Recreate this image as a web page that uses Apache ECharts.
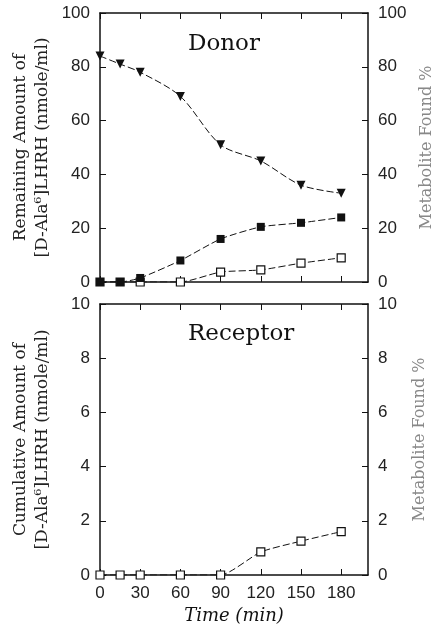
<!DOCTYPE html>
<html>
<head>
<meta charset="utf-8">
<script src="https://cdn.jsdelivr.net/npm/echarts@6/dist/echarts.min.js"></script>
<style>
  html, body { margin: 0; padding: 0; background: #fff; }
  #chart { width: 440px; height: 635px; }
</style>
</head>
<body>
<div id="chart"></div>
<script>
// sampling times (min)
const times = [0, 15, 30, 60, 90, 120, 150, 180];
const timeTicks = [0, 30, 60, 90, 120, 150, 180];

// donor side
const donorRemaining = [84, 81, 78, 69, 51, 45, 36, 33];
const donorMetaFilled = [0, 0, 1.5, 8, 16, 20.5, 22, 24];
const donorMetaOpen = [0, 0, 0, 0, 3.7, 4.5, 7, 9];

// receptor side
const receptorCumulative = [0, 0, 0, 0, 0, 0.85, 1.25, 1.6];

const serif = 'DejaVu Serif';
const sans = 'Liberation Sans';

function pairs(ys) {
    return times.map((t, i) => [t, ys[i]]);
}

function xAx(grid, pos, showLabel, name) {
    return {
        type: 'value', gridIndex: grid, position: pos,
        min: 0, max: 200,
        name: name || '',
        nameLocation: 'middle', nameGap: 32,
        nameTextStyle: { fontFamily: serif, fontStyle: 'italic', fontSize: 18, color: '#111' },
        axisLine: { show: true, onZero: false, lineStyle: { color: '#111', width: 1.5 } },
        axisTick: { show: true, inside: true, length: 6, customValues: timeTicks, lineStyle: { color: '#111' } },
        axisLabel: {
            show: showLabel, customValues: timeTicks, margin: 10,
            fontFamily: sans, fontSize: 17, color: '#222'
        },
        splitLine: { show: false }
    };
}

function yAx(grid, pos, max, interval, name, nameGap, nameStyle) {
    return {
        type: 'value', gridIndex: grid, position: pos,
        min: 0, max: max, interval: interval,
        name: name, nameLocation: 'middle', nameRotate: 90, nameGap: nameGap,
        nameMoveOverlap: false,
        nameTextStyle: nameStyle,
        axisLine: { show: true, onZero: false, lineStyle: { color: '#111', width: 1.5 } },
        axisTick: { show: true, inside: true, length: 6, lineStyle: { color: '#111' } },
        axisLabel: { margin: 10, fontFamily: sans, fontSize: 17, color: '#222' },
        splitLine: { show: false }
    };
}

const leftName = { fontFamily: serif, fontSize: 17, color: '#222', lineHeight: 22 };
const rightName = { fontFamily: serif, fontSize: 16, color: '#888' };

const lineStyle = { color: '#111', width: 1, type: [7, 3] };

let myChart = echarts.init(document.getElementById('chart'));
let option = {
    backgroundColor: '#fff',
    animation: false,
    title: [
        { text: 'Donor', left: 183, top: 28, textStyle: { fontFamily: serif, fontSize: 23, fontWeight: 'normal', color: '#111' } },
        { text: 'Receptor', left: 183, top: 318, textStyle: { fontFamily: serif, fontSize: 23, fontWeight: 'normal', color: '#111' } }
    ],
    grid: [
        { left: 100, right: 72, top: 13, height: 269, outerBoundsMode: 'none' },
        { left: 100, right: 72, top: 304, height: 271, outerBoundsMode: 'none' }
    ],
    xAxis: [
        xAx(0, 'bottom', false),
        xAx(0, 'top', false),
        xAx(1, 'bottom', true, 'Time (min)'),
        xAx(1, 'top', false)
    ],
    yAxis: [
        yAx(0, 'left', 100, 20, 'Remaining Amount of\n[D-Ala⁶]LHRH (nmole/ml)', 46, leftName),
        yAx(0, 'right', 100, 20, 'Metabolite Found %', 51, rightName),
        yAx(1, 'left', 10, 2, 'Cumulative Amount of\n[D-Ala⁶]LHRH (nmole/ml)', 46, leftName),
        yAx(1, 'right', 10, 2, 'Metabolite Found %', 44, rightName)
    ],
    series: [
        {
            type: 'line', xAxisIndex: 0, yAxisIndex: 0,
            data: pairs(donorMetaOpen),
            symbol: 'rect', symbolSize: 8,
            itemStyle: { color: '#fff', borderColor: '#111', borderWidth: 1.2 },
            lineStyle: lineStyle, smooth: 0.2
        },
        {
            type: 'line', xAxisIndex: 0, yAxisIndex: 0,
            data: pairs(donorMetaFilled),
            symbol: 'rect', symbolSize: 8,
            itemStyle: { color: '#111' },
            lineStyle: lineStyle, smooth: 0.2
        },
        {
            type: 'line', xAxisIndex: 0, yAxisIndex: 0,
            data: pairs(donorRemaining),
            symbol: 'triangle', symbolRotate: 180, symbolSize: 9,
            itemStyle: { color: '#111' },
            lineStyle: lineStyle, smooth: 0.3
        },
        {
            type: 'line', xAxisIndex: 2, yAxisIndex: 2,
            data: pairs(receptorCumulative),
            symbol: 'rect', symbolSize: 8,
            itemStyle: { color: '#fff', borderColor: '#111', borderWidth: 1.2 },
            lineStyle: lineStyle, smooth: 0.2
        }
    ]
};
myChart.setOption(option);
</script>
</body>
</html>
